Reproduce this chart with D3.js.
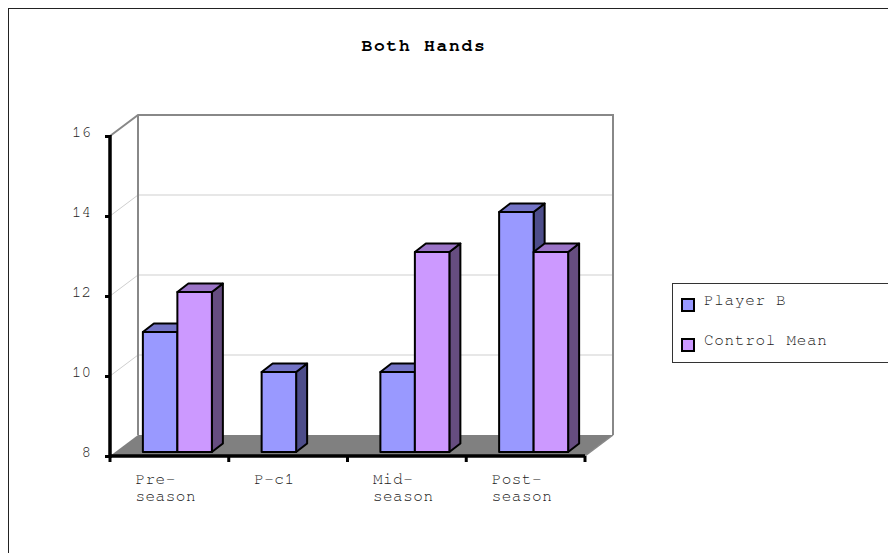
<!DOCTYPE html>
<html>
<head>
<meta charset="utf-8">
<script src="https://cdn.jsdelivr.net/npm/d3@7"></script>
<style>
  html, body { margin: 0; padding: 0; background: #fff; }
  svg { display: block; }
  text { font-family: "Nimbus Mono PS", "Nimbus Mono L", "FreeMono", "Courier New", Courier, "Liberation Mono", monospace; }
</style>
</head>
<body>
<svg id="chart" width="888" height="553"></svg>
<script>
// Chart data
const categories = ["Pre-season", "P-c1", "Mid-season", "Post-season"];
const categoryLines = [["Pre-", "season"], ["P-c1"], ["Mid-", "season"], ["Post-", "season"]];
const seriesNames = ["Player B", "Control Mean"];
const playerB = [11, 10, 10, 14];
const controlMean = [12, null, 13, 13];
const yTicks = [8, 10, 12, 14, 16];
const chartTitle = "Both Hands";

// Face colours per series: front, top, side
const palette = [
  { front: "#9999FF", top: "#7373C6", side: "#4D4D8A" },
  { front: "#CC99FF", top: "#9A73C6", side: "#664D80" }
];
const labelColour = "#222";

const svg = d3.select("#chart");

// Plot geometry
const plotLeft = 110, plotRight = 585, plotTop = 136, plotBottom = 456;
const wall = { dx: 28, dy: -21 };     // depth of the 3D box
const barShift = { dx: 8, dy: -4 };   // bar front plane inside the box
const barDepth = { dx: 11, dy: -8.5 };
const barW = 34.5;

const x = d3.scaleBand().domain(categories).range([plotLeft, plotRight]).padding(0);
const y = d3.scaleLinear().domain([8, 16]).range([plotBottom, plotTop]);

// Outer chart frame
svg.append("rect")
  .attr("x", 8.5).attr("y", 8.5).attr("width", 900).attr("height", 560)
  .attr("fill", "none").attr("stroke", "#222").attr("stroke-width", 1);

// Title
svg.append("text")
  .attr("x", 424).attr("y", 51)
  .attr("text-anchor", "middle")
  .attr("fill", "#000")
  .style("font-size", "18px").style("font-weight", "bold")
  .style("letter-spacing", "1.7px")
  .text(chartTitle);

// Floor
const floor = [[plotLeft, plotBottom], [plotRight, plotBottom],
  [plotRight + wall.dx, plotBottom + wall.dy], [plotLeft + wall.dx, plotBottom + wall.dy]];
svg.append("polygon")
  .attr("points", floor.map(p => p.join(",")).join(" "))
  .attr("fill", "#808080");

// Gridlines on side wall and back wall
const grid = svg.append("g").attr("stroke", "#cfcfcf").attr("stroke-width", 1).attr("fill", "none");
yTicks.filter(v => v > 8 && v < 16).forEach(v => {
  const yy = y(v);
  grid.append("path")
    .attr("d", `M${plotLeft},${yy}L${plotLeft + wall.dx},${yy + wall.dy}L${plotRight + wall.dx},${yy + wall.dy}`);
});

// Back wall frame
const frame = svg.append("g").attr("stroke", "#888").attr("stroke-width", 2).attr("fill", "none");
frame.append("path")
  .attr("d", `M${plotLeft},${y(16)}L${plotLeft + wall.dx},${y(16) + wall.dy}L${plotRight + wall.dx},${y(16) + wall.dy}L${plotRight + wall.dx},${y(8) + wall.dy}`);
frame.append("path")
  .attr("d", `M${plotLeft + wall.dx},${y(16) + wall.dy}L${plotLeft + wall.dx},${y(8) + wall.dy}`);
frame.append("path")
  .attr("stroke-width", 1.5)
  .attr("d", `M${plotRight},${y(8)}L${plotRight + wall.dx},${y(8) + wall.dy}`);

// Bars
const series = [playerB, controlMean];
const barsG = svg.append("g").attr("stroke", "#000").attr("stroke-width", 2).attr("stroke-linejoin", "round");
categories.forEach((c, i) => {
  const pairLeft = x(c) + x.bandwidth() / 2 + barShift.dx - barW;
  series.forEach((vals, s) => {
    const v = vals[i];
    if (v == null) return;
    const x0 = pairLeft + s * barW, x1 = x0 + barW;
    const y0 = y(8) + barShift.dy, y1 = y(v) + barShift.dy;
    const col = palette[s];
    const bdx = barDepth.dx, bdy = barDepth.dy;
    // side face
    barsG.append("polygon")
      .attr("points", [[x1, y1], [x1 + bdx, y1 + bdy], [x1 + bdx, y0 + bdy], [x1, y0]].map(p => p.join(",")).join(" "))
      .attr("fill", col.side);
    // top face
    barsG.append("polygon")
      .attr("points", [[x0, y1], [x0 + bdx, y1 + bdy], [x1 + bdx, y1 + bdy], [x1, y1]].map(p => p.join(",")).join(" "))
      .attr("fill", col.top);
    // front face
    barsG.append("rect")
      .attr("x", x0).attr("y", y1).attr("width", barW).attr("height", y0 - y1)
      .attr("fill", col.front);
  });
});

// Y axis
const yAxisG = svg.append("g").attr("transform", `translate(${plotLeft},0)`);
yAxisG.call(d3.axisLeft(y).tickValues(yTicks).tickSize(5).tickFormat(d3.format("d")));
yAxisG.attr("font-family", null);
yAxisG.select(".domain").remove();
yAxisG.selectAll(".tick line").attr("stroke", "#000").attr("stroke-width", 3);
yAxisG.selectAll(".tick text")
  .attr("x", -19).attr("dy", 0)
  .style("font-size", "16px")
  .attr("fill", labelColour);
svg.append("line")
  .attr("x1", plotLeft).attr("x2", plotLeft).attr("y1", y(16) - 1).attr("y2", y(8) + 2)
  .attr("stroke", "#000").attr("stroke-width", 3.5);

// X axis
svg.append("line")
  .attr("x1", plotLeft).attr("x2", plotRight).attr("y1", plotBottom).attr("y2", plotBottom)
  .attr("stroke", "#000").attr("stroke-width", 3.5);
const xTickPos = categories.map(c => x(c)).concat([plotRight]);
svg.append("g").selectAll("line").data(xTickPos).join("line")
  .attr("x1", d => d).attr("x2", d => d).attr("y1", plotBottom).attr("y2", plotBottom + 6)
  .attr("stroke", "#000").attr("stroke-width", 3);

// Category labels
const labG = svg.append("g");
categories.forEach((c, i) => {
  const lx = x(c) + x.bandwidth() / 2 - 34;
  const t = labG.append("text")
    .attr("x", lx)
    .attr("y", 484)
    .style("font-size", "16px").style("letter-spacing", "0.5px")
    .attr("fill", labelColour);
  categoryLines[i].forEach((ln, k) => {
    t.append("tspan").attr("x", lx).attr("dy", k === 0 ? 0 : 16.5).text(ln);
  });
});

// Legend
const lg = svg.append("g");
lg.append("rect")
  .attr("x", 672.5).attr("y", 283.5).attr("width", 230).attr("height", 79)
  .attr("fill", "#fff").attr("stroke", "#333").attr("stroke-width", 1);
seriesNames.forEach((name, s) => {
  const yy = 299 + s * 40;
  lg.append("rect")
    .attr("x", 682).attr("y", yy).attr("width", 12).attr("height", 12)
    .attr("fill", palette[s].front).attr("stroke", "#000").attr("stroke-width", 2);
  lg.append("text")
    .attr("x", 704).attr("y", yy + 6)
    .style("font-size", "16px").style("letter-spacing", "0.7px")
    .attr("fill", labelColour)
    .text(name);
});
</script>
</body>
</html>
